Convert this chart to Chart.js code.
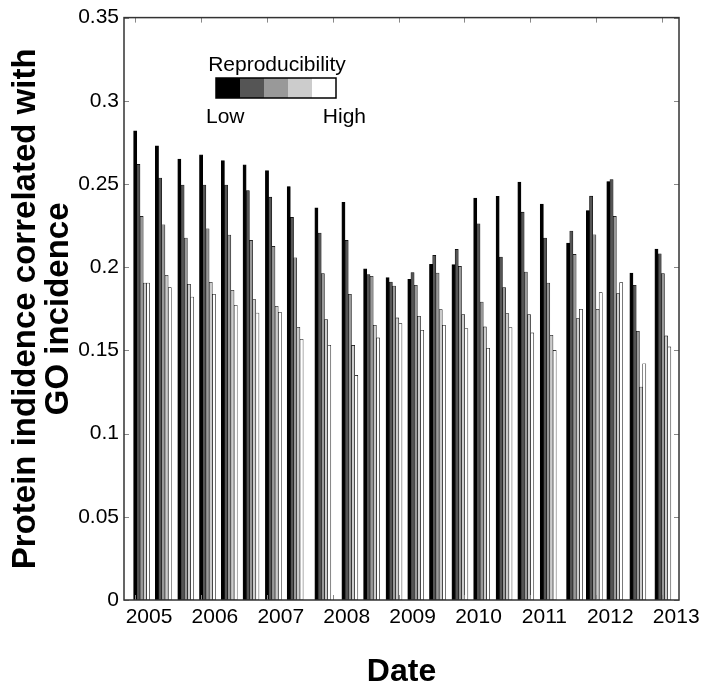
<!DOCTYPE html>
<html>
<head>
<meta charset="utf-8">
<script src="https://cdn.jsdelivr.net/npm/chart.js@4/dist/chart.umd.min.js"></script>
<style>
  html, body { margin: 0; padding: 0; background: #fff; }
  #wrap { width: 707px; height: 690px; }
</style>
</head>
<body>
<div id="wrap"><canvas id="chart" width="707" height="690"></canvas></div>
<script>
// release dates as decimal years
const releaseDates = [2005.10, 2005.43, 2005.77, 2006.10, 2006.43, 2006.76, 2007.10, 2007.43,
  2007.85, 2008.26, 2008.59, 2008.93, 2009.26, 2009.59, 2009.93, 2010.26,
  2010.60, 2010.93, 2011.27, 2011.67, 2011.97, 2012.28, 2012.63, 2013.01];

// reproducibility levels, low -> high
const reproLevel1 = [0.282, 0.273, 0.265, 0.2675, 0.264, 0.2615, 0.258, 0.2485, 0.2357, 0.239, 0.199, 0.1937,
  0.1927, 0.2017, 0.2015, 0.2415, 0.2426, 0.2511, 0.2379, 0.2145, 0.2341, 0.2515, 0.1965, 0.2109];
const reproLevel2 = [0.2618, 0.2536, 0.2494, 0.2494, 0.2494, 0.2461, 0.2421, 0.2299, 0.2205, 0.2161, 0.1955, 0.1911,
  0.1967, 0.2071, 0.2107, 0.2261, 0.2061, 0.2331, 0.2175, 0.2217, 0.2427, 0.2526, 0.1891, 0.2081];
const reproLevel3 = [0.2305, 0.2255, 0.2175, 0.2231, 0.2193, 0.2161, 0.2125, 0.2057, 0.1961, 0.1837, 0.1945, 0.1887,
  0.1891, 0.1965, 0.2005, 0.1791, 0.1877, 0.1971, 0.1905, 0.2077, 0.2195, 0.2305, 0.1615, 0.1961];
const reproLevel4 = [0.1905, 0.1951, 0.1897, 0.1909, 0.1861, 0.1805, 0.1765, 0.1639, 0.1685, 0.153, 0.1651, 0.1695,
  0.1705, 0.1745, 0.1715, 0.1641, 0.1721, 0.1715, 0.1591, 0.1691, 0.1747, 0.1841, 0.128, 0.1587];
const reproLevel5 = [0.1905, 0.1877, 0.1821, 0.1837, 0.1771, 0.1725, 0.1729, 0.1567, 0.1531, 0.135, 0.1575, 0.1661,
  0.1621, 0.1651, 0.1631, 0.1513, 0.1637, 0.1605, 0.150, 0.1747, 0.1847, 0.1907, 0.142, 0.1521];

const yearTicks = [2005, 2006, 2007, 2008, 2009, 2010, 2011, 2012, 2013];
const yTicks = [0, 0.05, 0.1, 0.15, 0.2, 0.25, 0.3, 0.35];
const yTickLabels = ['0', '0.05', '0.1', '0.15', '0.2', '0.25', '0.3', '0.35'];

const series = [reproLevel1, reproLevel2, reproLevel3, reproLevel4, reproLevel5];
const shades = ['#000000', '#555555', '#999999', '#cccccc', '#ffffff'];
const FONT = '"Liberation Sans", Arial, Helvetica, sans-serif';

// frame, inward tick marks and the grey-scale key
const decorations = {
  id: 'decorations',
  afterDraw(chart) {
    const { ctx, chartArea: a, scales } = chart;
    ctx.save();
    ctx.strokeStyle = '#888';
    ctx.lineWidth = 1;
    ctx.beginPath();
    yTicks.forEach(v => {
      const y = Math.round(scales.y.getPixelForValue(v)) + 0.5;
      ctx.moveTo(a.left, y); ctx.lineTo(a.left + 5, y);
      ctx.moveTo(a.right, y); ctx.lineTo(a.right - 5, y);
    });
    yearTicks.forEach(v => {
      const x = Math.round(scales.x.getPixelForValue(v)) + 0.5;
      ctx.moveTo(x, a.top); ctx.lineTo(x, a.top + 5);
      ctx.moveTo(x, a.bottom); ctx.lineTo(x, a.bottom - 5);
    });
    ctx.stroke();

    ctx.strokeStyle = '#333';
    ctx.lineWidth = 1.5;
    ctx.strokeRect(a.left, a.top, a.right - a.left, a.bottom - a.top);

    // key
    const kx = 216, ky = 78, kw = 24, kh = 20;
    shades.forEach((c, i) => {
      ctx.fillStyle = c;
      ctx.fillRect(kx + i * kw, ky, kw, kh);
    });
    ctx.strokeStyle = '#000';
    ctx.lineWidth = 1.5;
    ctx.strokeRect(kx, ky, kw * shades.length, kh);
    ctx.fillStyle = '#000';
    ctx.font = '21px ' + FONT;
    ctx.textBaseline = 'alphabetic';
    ctx.textAlign = 'center';
    ctx.fillText('Reproducibility', 277, 71);
    ctx.textAlign = 'left';
    ctx.fillText('Low', 206, 123);
    ctx.textAlign = 'right';
    ctx.fillText('High', 366, 123);
    ctx.restore();
  }
};

new Chart(document.getElementById('chart'), {
  type: 'bar',
  plugins: [decorations],
  data: {
    datasets: series.map((s, i) => ({
      label: 'Level ' + (i + 1),
      data: s.map((v, j) => ({ x: releaseDates[j], y: v })),
      backgroundColor: shades[i],
      borderColor: '#000',
      borderWidth: 0.6,
      borderSkipped: false,
      barThickness: 3.2
    }))
  },
  options: {
    responsive: false,
    animation: false,
    layout: { padding: { top: 17, right: 28, left: 0, bottom: 0 } },
    plugins: {
      legend: { display: false },
      tooltip: { enabled: false }
    },
    scales: {
      x: {
        type: 'linear',
        min: 2004.833,
        max: 2013.255,
        offset: false,
        afterFit(scale) { scale.height = 90; },
        afterBuildTicks(scale) { scale.ticks = yearTicks.map(v => ({ value: v })); },
        grid: { display: false, drawTicks: false },
        border: { display: false },
        ticks: {
          autoSkip: false,
          maxRotation: 0,
          padding: 5,
          labelOffset: 14,
          color: '#000',
          font: { family: FONT, size: 21 },
          callback: v => String(v)
        },
        title: {
          display: true,
          text: 'Date',
          color: '#000',
          padding: { top: 0, bottom: 0 },
          font: { family: FONT, size: 32, weight: 'bold', lineHeight: 1.1 }
        }
      },
      y: {
        min: 0,
        max: 0.35,
        afterFit(scale) { scale.width = 124; },
        afterBuildTicks(scale) { scale.ticks = yTicks.map(v => ({ value: v })); },
        grid: { display: false, drawTicks: false },
        border: { display: false },
        ticks: {
          padding: 5,
          color: '#000',
          font: { family: FONT, size: 21 },
          callback: (v, i) => yTickLabels[i]
        },
        title: {
          display: true,
          text: ['Protein indidence correlated with', 'GO incidence'],
          color: '#000',
          padding: { top: 9.5, bottom: 0 },
          font: { family: FONT, size: 33, weight: 'bold', lineHeight: 1.0 }
        }
      }
    }
  }
});
</script>
</body>
</html>
